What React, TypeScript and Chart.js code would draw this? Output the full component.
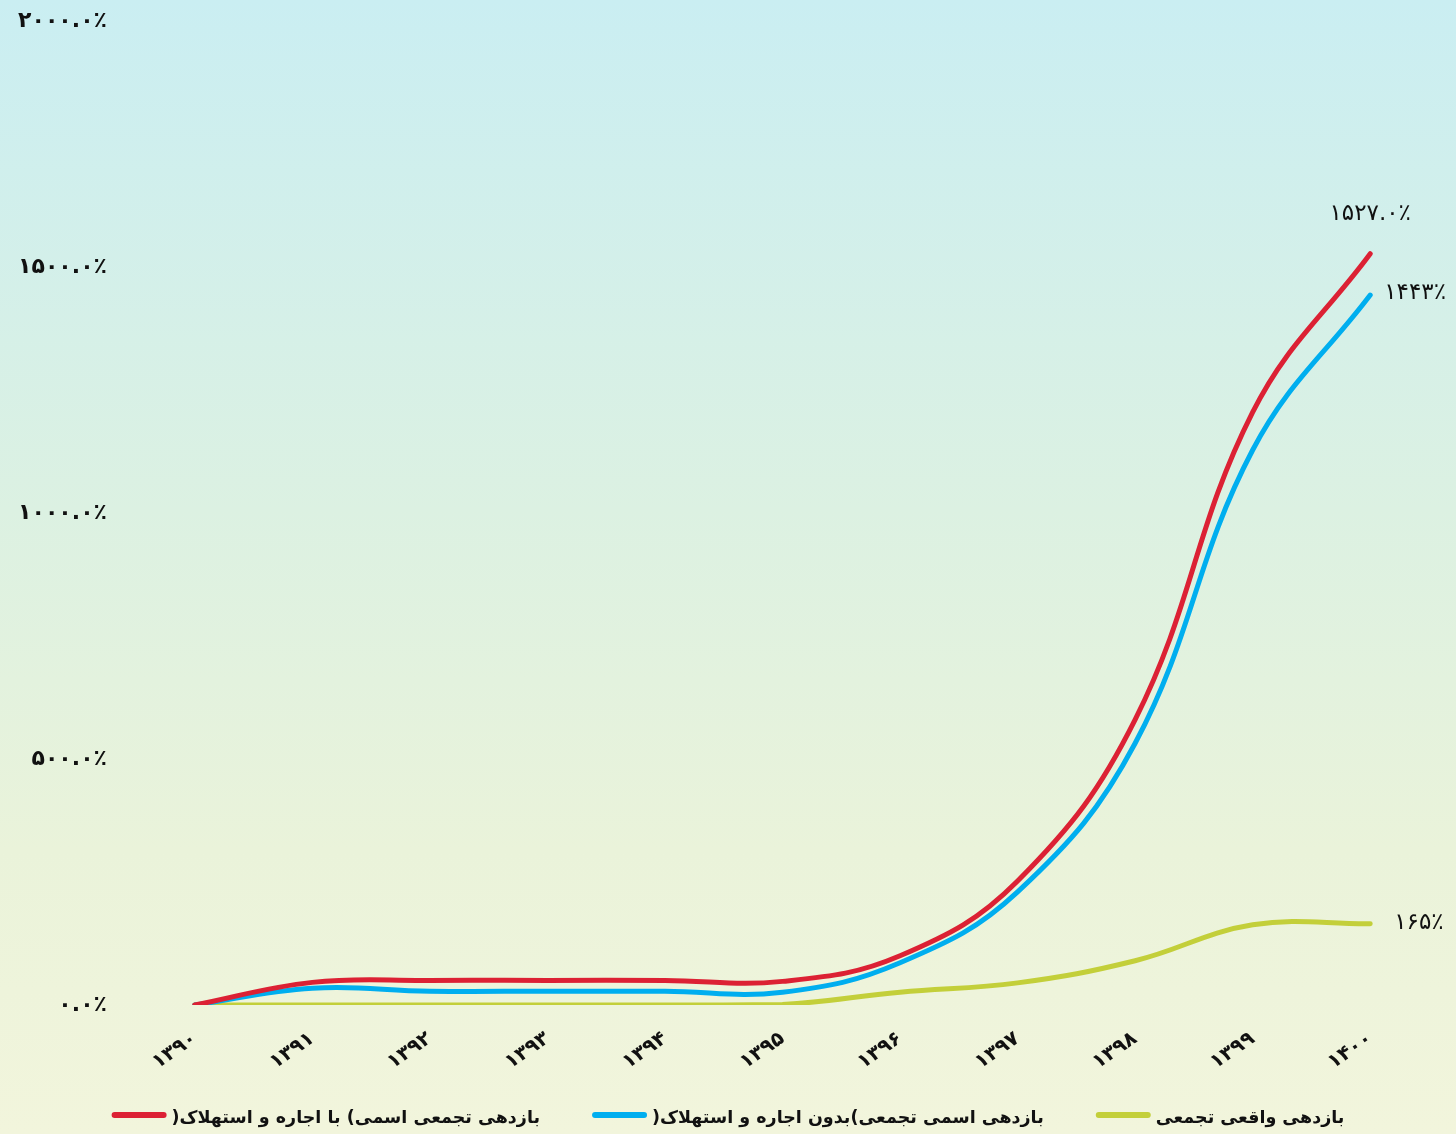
import React, { useEffect, useRef } from 'react';
import { Chart, registerables } from 'chart.js';

Chart.register(...registerables);

const categories = ['۱۳۹۰', '۱۳۹۱', '۱۳۹۲', '۱۳۹۳', '۱۳۹۴', '۱۳۹۵', '۱۳۹۶', '۱۳۹۷', '۱۳۹۸', '۱۳۹۹', '۱۴۰۰'];
const seriesNames = [
  'بازدهی تجمعی اسمی) با اجاره و استهلاک(',
  'بازدهی اسمی تجمعی)بدون اجاره و استهلاک(',
  'بازدهی واقعی تجمعی',
];
const nominalWithRent = [0, 46, 50, 50, 50, 48, 100, 252, 580, 1205, 1527];
const nominalWithoutRent = [0, 34, 28, 28, 28, 26, 86, 230, 532, 1128, 1443];
const realCumulative = [0, 0, 0, 0, 0, 1, 26, 45, 90, 163, 165];
const endLabels = ['۱۵۲۷.۰٪', '۱۴۴۳٪', '۱۶۵٪'];
const yMin = 0;
const yMax = 2000;
const yStep = 500;
const colors = ['#dc2134', '#00aeef', '#c3cf3a'];

const toFa = (s: string) => s.replace(/\d/g, (d) => '۰۱۲۳۴۵۶۷۸۹'[Number(d)]);
const FONT = '"DejaVu Sans", sans-serif';

const endLabelPlugin = {
  id: 'endLabels',
  afterDatasetsDraw(chart: any) {
    const ctx = chart.ctx;
    ctx.save();
    ctx.font = `23px ${FONT}`;
    ctx.fillStyle = '#111111';
    ctx.textBaseline = 'middle';
    chart.data.datasets.forEach((_ds: any, i: number) => {
      const meta = chart.getDatasetMeta(i);
      const pt = meta.data[meta.data.length - 1];
      if (!pt) return;
      if (i === 0) {
        ctx.textAlign = 'center';
        ctx.fillText(endLabels[i], pt.x, pt.y - 40);
      } else if (i === 1) {
        ctx.textAlign = 'left';
        ctx.fillText(endLabels[i], pt.x + 14, pt.y - 2);
      } else {
        ctx.textAlign = 'left';
        ctx.fillText(endLabels[i], pt.x + 24, pt.y - 1);
      }
    });
    ctx.restore();
  },
};

const legendPlugin = {
  id: 'bottomLegend',
  afterDraw(chart: any) {
    const ctx = chart.ctx;
    ctx.save();
    ctx.font = `bold 17.5px ${FONT}`;
    ctx.direction = 'rtl';
    const sample = 55;
    const gapText = 5;
    const gapItem = 52;
    const names: string[] = chart.data.datasets.map((d: any) => d.label);
    const widths = names.map((n) => ctx.measureText(n).width);
    const total = widths.reduce((a, b) => a + b, 0) + names.length * (sample + gapText) + (names.length - 1) * gapItem;
    let x = chart.width / 2 - total / 2;
    const y = 1118;
    names.forEach((name, i) => {
      ctx.strokeStyle = colors[i];
      ctx.lineWidth = 6;
      ctx.lineCap = 'round';
      ctx.beginPath();
      ctx.moveTo(x + 3, y - 3);
      ctx.lineTo(x + sample - 3, y - 3);
      ctx.stroke();
      ctx.fillStyle = '#111111';
      ctx.textAlign = 'left';
      ctx.textBaseline = 'middle';
      ctx.fillText(name, x + sample + gapText, y);
      x += sample + gapText + widths[i] + gapItem;
    });
    ctx.restore();
  },
};

export default function App() {
  const canvasRef = useRef<HTMLCanvasElement | null>(null);

  useEffect(() => {
    if (!canvasRef.current) return;
    const seriesData = [nominalWithRent, nominalWithoutRent, realCumulative];
    const chart = new Chart(canvasRef.current, {
      type: 'line',
      data: {
        labels: categories,
        datasets: seriesData.map((d, i) => ({
          label: seriesNames[i],
          data: d,
          borderColor: colors[i],
          backgroundColor: colors[i],
          borderWidth: 5,
          borderCapStyle: 'round' as const,
          borderJoinStyle: 'round' as const,
          pointRadius: 0,
          pointHoverRadius: 0,
          tension: 0.4,
          fill: false,
        })),
      },
      options: {
        animation: false,
        responsive: true,
        maintainAspectRatio: false,
        layout: { padding: { left: 0, right: 27, top: 21, bottom: 44 } },
        scales: {
          x: {
            offset: true,
            grid: { display: false, drawTicks: false },
            border: { display: false },
            ticks: {
              color: '#111111',
              font: { family: FONT, size: 20, weight: 'bold' },
              minRotation: 35,
              maxRotation: 35,
              padding: 22,
            },
            afterFit: (scale: any) => {
              scale.height = 85;
            },
          },
          y: {
            min: yMin,
            max: yMax,
            grid: { display: false, drawTicks: false },
            border: { display: false },
            ticks: {
              stepSize: yStep,
              color: '#111111',
              font: { family: FONT, size: 22, weight: 'bold' },
              padding: 29,
              callback: (v: any) => toFa(Number(v).toFixed(1)) + '٪',
            },
            afterFit: (scale: any) => {
              scale.width = 136;
              scale.paddingTop = 0;
              scale.paddingBottom = 0;
            },
          },
        },
        plugins: {
          tooltip: { enabled: false },
          legend: { display: false },
        },
      },
      plugins: [endLabelPlugin, legendPlugin],
    });
    return () => chart.destroy();
  }, []);

  return (
    <div
      style={{
        position: 'absolute',
        left: 0,
        top: 0,
        width: 1456,
        height: 1134,
        background: 'linear-gradient(to bottom, #caeef2 0%, #dcf1e2 45%, #eaf3da 75%, #f2f5dc 100%)',
      }}
    >
      <canvas ref={canvasRef} />
    </div>
  );
}
